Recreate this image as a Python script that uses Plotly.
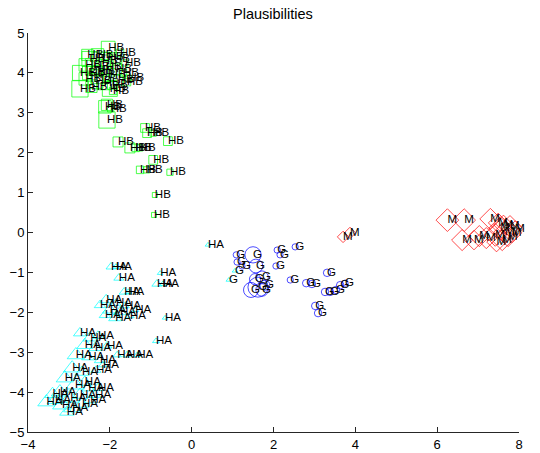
import plotly.graph_objects as go

# ---- HB (green squares) ----
hb_x = [-2.04, -1.75, -2.30, -2.50, -2.20, -1.90, -1.63, -2.60, -2.40, -2.10, -1.85, -1.68, -2.73, -2.50, -2.25,
        -2.00, -1.55, -2.60, -2.35, -1.80, -1.58, -2.15, -2.73, -2.00, -2.45, -1.92, -2.55, -2.30, -2.05, -1.95,
        -2.07, -2.12, -1.98, -2.07, -1.14, -1.09, -0.94, -0.58, -1.80, -1.51, -1.37, -1.27, -0.94, -1.26, -1.10,
        -0.53, -0.90, -0.92]
hb_y = [4.62, 4.50, 4.45, 4.35, 4.30, 4.35, 4.25, 4.20, 4.15, 4.15, 4.10, 4.00, 4.00, 4.00, 3.95,
        3.95, 3.87, 3.85, 3.80, 3.82, 3.77, 3.75, 3.60, 3.60, 3.65, 3.55, 4.45, 4.05, 4.40, 3.70,
        3.20, 3.15, 3.10, 2.82, 2.62, 2.49, 2.49, 2.29, 2.27, 2.12, 2.12, 2.12, 1.82, 1.57, 1.57,
        1.51, 0.94, 0.44]
hb_w = [11, 6, 10, 12, 14, 10, 5, 10, 13, 12, 9, 6, 12, 11, 14,
        10, 5, 10, 12, 8, 6, 11, 13, 12, 9, 6, 9, 8, 7, 7,
        9, 10, 5, 13, 7, 7, 5, 7, 8, 8, 6, 5, 7, 6, 5,
        5, 4, 4]
hb_lab = ["HB"] * len(hb_x)

# ---- HA (cyan triangles) ----
ha_x = [-1.97, -1.85, -1.78, -0.77, -0.85, -0.70, -1.65, -1.55, -2.24, -2.09, -2.00, -1.85, -1.75, -2.12, -1.63,
        -1.51, -1.87, -1.38, -0.65, -0.87, -2.73, -2.48, -2.29, -2.61, -2.36, -2.07, -1.82, -1.58, -1.33, -2.83,
        -2.53, -2.24, -2.92, -2.68, -2.34, -2.17, -3.10, -2.85, -2.61, -2.29, -3.22, -2.97, -2.73, -2.48, -3.17,
        -2.92, -2.68, -3.34, -3.05, -2.36, -2.53, -3.55, -3.40, 1.06, 0.91, 0.40]
ha_y = [-0.86, -0.86, -1.14, -1.02, -1.29, -1.29, -1.49, -1.49, -1.82, -1.69, -1.94, -1.77, -1.99, -2.07, -1.84,
        -2.09, -2.14, -1.94, -2.14, -2.72, -2.52, -2.64, -2.59, -2.82, -2.89, -2.84, -3.07, -3.07, -3.07, -3.07,
        -3.12, -3.20, -3.40, -3.50, -3.45, -3.32, -3.65, -3.82, -3.75, -3.90, -4.00, -4.15, -4.07, -4.20, -4.32,
        -4.40, -4.30, -4.20, -4.50, -4.07, -3.90, -4.25, -4.05, -0.96, -1.19, -0.31]
ha_w = [7, 5, 7, 4, 7, 5, 7, 5, 8, 9, 10, 7, 9, 8, 6,
        6, 9, 5, 4, 5, 9, 10, 8, 11, 9, 7, 6, 6, 5, 12,
        9, 8, 12, 10, 7, 6, 12, 13, 10, 8, 12, 13, 11, 9, 13,
        12, 10, 11, 10, 8, 9, 12, 11, 4, 4, 4]
ha_lab = ["HA"] * (len(ha_x) - 3) + ["G", "G", "HA"]

# ---- G (blue circles) ----
g_x = [1.09, 1.50, 1.11, 1.23, 1.57, 2.09, 2.16, 2.53, 2.06, 1.62, 1.72, 1.55, 1.79, 1.45, 1.72,
       2.41, 2.80, 2.94, 3.31, 3.26, 3.38, 3.53, 3.63, 3.75, 3.02, 3.09]
g_y = [-0.56, -0.56, -0.74, -0.84, -0.84, -0.44, -0.56, -0.36, -0.84, -1.37, -1.12, -1.17, -1.32, -1.44, -1.44,
       -1.19, -1.27, -1.29, -1.01, -1.49, -1.49, -1.44, -1.32, -1.27, -1.84, -2.02]
g_w = [5, 13, 5, 5, 11, 5, 5, 5, 5, 16, 10, 9, 8, 12, 10,
       5, 6, 6, 6, 6, 6, 6, 6, 5, 6, 6]
g_lab = ["G"] * len(g_x)

# ---- M (red diamonds) ----
m_x = [3.70, 3.87, 6.25, 6.66, 6.61, 7.03, 6.90, 7.30, 7.20, 7.42, 7.54, 7.66, 7.78, 7.59, 7.73,
       7.83, 7.49, 7.91, 7.62, 7.45]
m_y = [-0.11, -0.01, 0.31, 0.31, -0.19, -0.09, -0.19, 0.34, -0.14, -0.06, 0.11, 0.01, 0.16, -0.19, -0.11,
       -0.01, 0.24, 0.09, 0.19, -0.24]
m_w = [7, 7, 14, 14, 13, 13, 12, 13, 13, 14, 14, 14, 13, 13, 12,
       12, 12, 10, 12, 12]
m_lab = ["M"] * len(m_x)

x_ticks = [-4, -2, 0, 2, 4, 6, 8]
y_ticks = [-5, -4, -3, -2, -1, 0, 1, 2, 3, 4, 5]

SIZE_SCALE = 1.25
FONT = "Liberation Sans, Arial, sans-serif"

groups = [
    (hb_x, hb_y, hb_w, hb_lab, "square-open", "#00ff00"),
    (ha_x, ha_y, ha_w, ha_lab, "triangle-up-open", "#00ffff"),
    (g_x, g_y, g_w, g_lab, "circle-open", "#0000ff"),
    (m_x, m_y, m_w, m_lab, "diamond-open", "#ff0000"),
]

fig = go.Figure()
for gx, gy, gw, gl, sym, col in groups:
    fig.add_trace(go.Scatter(
        x=gx, y=gy, mode="markers", showlegend=False, hoverinfo="skip", cliponaxis=False,
        marker=dict(symbol=sym, size=[w * SIZE_SCALE for w in gw], color=col,
                    line=dict(color=col, width=1)),
    ))
for gx, gy, gw, gl, sym, col in groups:
    fig.add_trace(go.Scatter(
        x=gx, y=gy, mode="text", text=gl, textposition="middle right",
        showlegend=False, hoverinfo="skip", cliponaxis=False,
        textfont=dict(family=FONT, size=11.5, color="black"),
    ))

axis_common = dict(
    showgrid=False, zeroline=False, showline=True, linecolor="#262626", linewidth=1,
    ticks="inside", ticklen=5, tickcolor="#262626", mirror=False, automargin=False,
    tickfont=dict(family=FONT, size=13, color="black"),
)
fig.update_xaxes(range=[-4, 8], tickvals=x_ticks, **axis_common)
fig.update_yaxes(range=[-5, 5], tickvals=y_ticks, **axis_common)

# page body has an 8px default margin; size/margins compensate for it
fig.update_layout(
    width=532, height=445,
    margin=dict(l=20, r=21, t=25, b=21),
    paper_bgcolor="white", plot_bgcolor="white",
    title=dict(text="Plausibilities", x=0.498, xanchor="center", y=0.999, yanchor="top",
               font=dict(family=FONT, size=14.5, color="black")),
    showlegend=False,
)

fig.write_html("out.html")
